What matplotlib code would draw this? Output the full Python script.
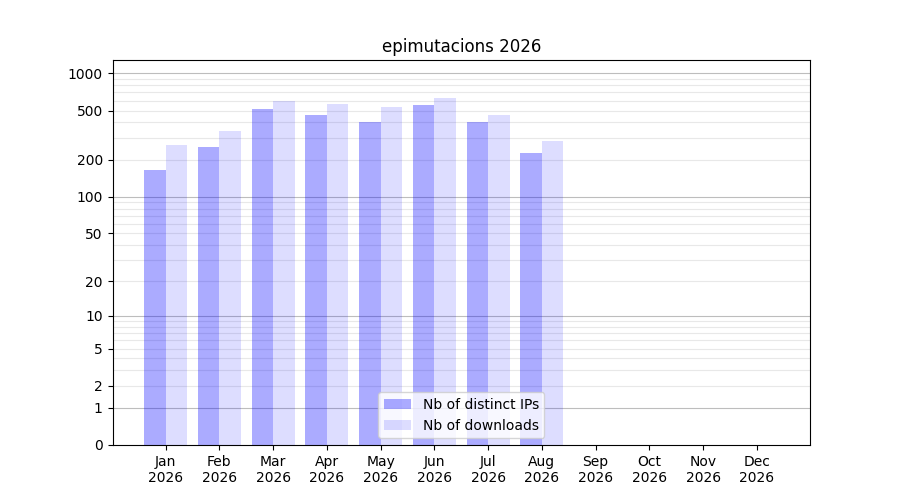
import numpy as np
import matplotlib
matplotlib.use("Agg")
import matplotlib.pyplot as plt
from matplotlib.ticker import FixedLocator, FixedFormatter

months = ["Jan", "Feb", "Mar", "Apr", "May", "Jun", "Jul", "Aug", "Sep", "Oct", "Nov", "Dec"]
year = "2026"
distinct_ips = [165, 253, 514, 460, 403, 554, 403, 226, 0, 0, 0, 0]
downloads = [263, 341, 597, 564, 534, 631, 460, 283, 0, 0, 0, 0]
ytick_vals = [0, 1, 2, 5, 10, 20, 50, 100, 200, 500, 1000]
major_grid = [1, 10, 100, 1000]
minor_grid = [m * d for d in [1, 10, 100, 1000] for m in range(2, 10)]


def fwd(x):
    x = np.asarray(x, dtype=float)
    return np.log10(1 + np.maximum(x, -0.999999))


def inv(y):
    return 10 ** np.asarray(y, dtype=float) - 1


fig, ax = plt.subplots(figsize=(9, 5), dpi=100)
x = np.arange(len(months))
w = 0.4
ax.bar(x - w, distinct_ips, width=w, align="edge", color="blue", alpha=0.33,
       label="Nb of distinct IPs", zorder=2)
ax.bar(x, downloads, width=w, align="edge", color="blue", alpha=0.135,
       label="Nb of downloads", zorder=2)

ax.set_yscale("function", functions=(fwd, inv))
ax.set_ylim(0, 1280)
for v in minor_grid:
    ax.axhline(v, color="#e8e8e8", linewidth=0.8, zorder=0.5)
for v in major_grid:
    ax.axhline(v, color="#bdbdbd", linewidth=0.8, zorder=0.6)

ax.yaxis.set_major_locator(FixedLocator(ytick_vals))
ax.yaxis.set_major_formatter(FixedFormatter([str(v) for v in ytick_vals]))
ax.yaxis.set_minor_locator(FixedLocator([]))
ax.set_xticks(x)
ax.set_xticklabels([f"{m}\n{year}" for m in months])
ax.set_title("epimutacions 2026")
ax.legend(loc="lower center")
fig.savefig("out.png", dpi=100)
